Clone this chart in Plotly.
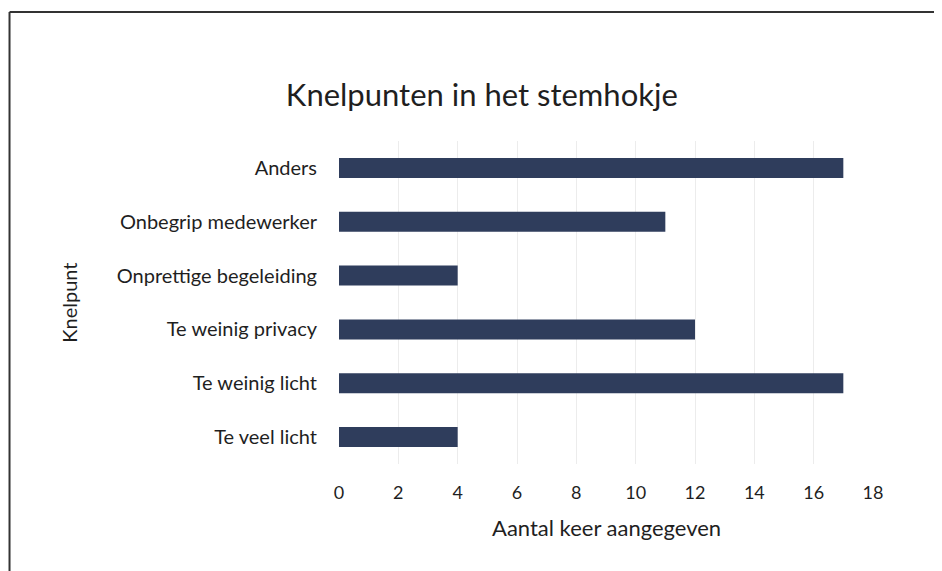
"""Knelpunten in het stemhokje - horizontale staafgrafiek."""

import plotly.graph_objects as go

knelpunten = [
    "Te veel licht",
    "Te weinig licht",
    "Te weinig privacy",
    "Onprettige begeleiding",
    "Onbegrip medewerker",
    "Anders",
]
aantallen = [4, 17, 12, 4, 11, 17]
x_ticks = [0, 2, 4, 6, 8, 10, 12, 14, 16, 18]

font_family = "Lato, Open Sans, sans-serif"
text_color = "#1f1f1f"
bar_color = "#2f3d5c"

fig = go.Figure()
fig.add_trace(go.Bar(x=aantallen, y=knelpunten, orientation="h", marker={"color": bar_color, "line": {"width": 0}}))

# kader van de gescande figuur (boven en links)
fig.add_shape(type="line", xref="paper", yref="paper", x0=-0.617, x1=1.2, y0=1.399, y1=1.399, line={"color": "#333333", "width": 2})
fig.add_shape(type="line", xref="paper", yref="paper", x0=-0.617, x1=-0.617, y0=1.399, y1=-0.4, line={"color": "#333333", "width": 2})

fig.add_annotation(text="Knelpunt", xref="paper", yref="paper", x=-0.507, y=0.5, xanchor="center", yanchor="middle", showarrow=False, textangle=-90, font={"size": 20, "color": text_color, "family": font_family})
fig.add_annotation(text="Aantal keer aangegeven", xref="paper", yref="paper", x=0.5, y=-0.198, xanchor="center", yanchor="middle", showarrow=False, font={"size": 22, "color": text_color, "family": font_family})

# de pagina heeft 8 px marge, daarom zijn de marges daarvoor gecorrigeerd
fig.update_layout(
    width=942,
    height=571,
    title={"text": "Knelpunten in het stemhokje", "x": 0.503, "xanchor": "center", "y": 0.848, "yanchor": "middle", "font": {"size": 31, "color": text_color, "family": font_family}},
    margin={"l": 331, "r": 77, "t": 133, "b": 115},
    paper_bgcolor="white",
    plot_bgcolor="white",
    bargap=0.63,
    showlegend=False,
    font={"family": font_family, "color": text_color},
    xaxis={
        "range": [0, 18],
        "tickvals": x_ticks,
        "showgrid": True,
        "gridcolor": "#ececec",
        "gridwidth": 1,
        "zeroline": False,
        "showline": False,
        "ticks": "",
        "ticklabelstandoff": 16,
        "tickfont": {"size": 18},
    },
    yaxis={
        "categoryorder": "array",
        "categoryarray": knelpunten,
        "showgrid": False,
        "zeroline": False,
        "showline": False,
        "ticks": "",
        "ticklabelstandoff": 21,
        "tickfont": {"size": 20},
    },
)

fig.write_html("out.html")
